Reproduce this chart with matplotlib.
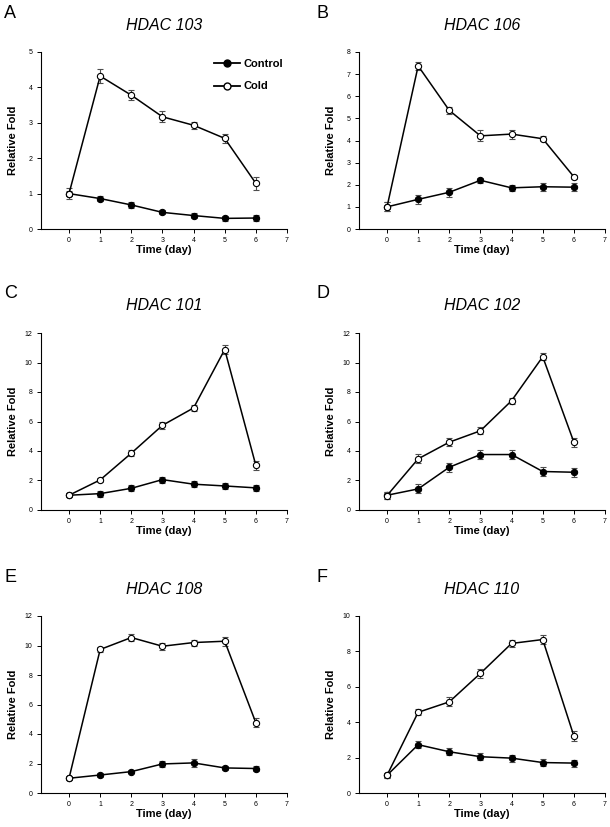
import matplotlib
matplotlib.use('Agg')
import matplotlib.pyplot as plt
from matplotlib.lines import Line2D

plt.rcParams['font.family'] = ['Liberation Sans', 'DejaVu Sans']

# data
days = [0, 1, 2, 3, 4, 5, 6]
genes = ['HDAC 103', 'HDAC 106', 'HDAC 101', 'HDAC 102', 'HDAC 108', 'HDAC 110']
letters = ['A', 'B', 'C', 'D', 'E', 'F']
ymax = [5, 8, 12, 12, 12, 10]
ystep = [1, 1, 2, 2, 2, 2]

ctrl_103 = [1.0, 0.86, 0.68, 0.47, 0.38, 0.30, 0.31]
ctrl_103_err = [0.08, 0.08, 0.08, 0.06, 0.07, 0.06, 0.08]
cold_103 = [1.0, 4.32, 3.78, 3.17, 2.93, 2.56, 1.29]
cold_103_err = [0.15, 0.19, 0.14, 0.16, 0.10, 0.13, 0.18]

ctrl_106 = [1.0, 1.34, 1.66, 2.20, 1.86, 1.91, 1.89]
ctrl_106_err = [0.2, 0.2, 0.2, 0.12, 0.12, 0.18, 0.18]
cold_106 = [1.0, 7.37, 5.36, 4.21, 4.29, 4.08, 2.36]
cold_106_err = [0.2, 0.18, 0.17, 0.25, 0.2, 0.12, 0.1]

ctrl_101 = [1.0, 1.11, 1.47, 2.06, 1.75, 1.63, 1.50]
ctrl_101_err = [0.15, 0.2, 0.2, 0.2, 0.2, 0.2, 0.2]
cold_101 = [1.0, 2.04, 3.85, 5.74, 6.92, 10.88, 3.02]
cold_101_err = [0.15, 0.15, 0.2, 0.25, 0.2, 0.3, 0.3]

ctrl_102 = [1.0, 1.43, 2.90, 3.76, 3.76, 2.61, 2.56]
ctrl_102_err = [0.25, 0.3, 0.3, 0.3, 0.3, 0.3, 0.3]
cold_102 = [0.98, 3.47, 4.60, 5.37, 7.41, 10.39, 4.60]
cold_102_err = [0.25, 0.3, 0.25, 0.25, 0.2, 0.25, 0.3]

ctrl_108 = [1.0, 1.22, 1.45, 1.97, 2.04, 1.70, 1.66]
ctrl_108_err = [0.1, 0.15, 0.12, 0.2, 0.25, 0.12, 0.15]
cold_108 = [1.0, 9.73, 10.54, 9.95, 10.20, 10.29, 4.76]
cold_108_err = [0.1, 0.2, 0.25, 0.25, 0.2, 0.3, 0.3]

ctrl_110 = [1.0, 2.73, 2.33, 2.05, 1.97, 1.72, 1.69]
ctrl_110_err = [0.15, 0.18, 0.2, 0.2, 0.2, 0.18, 0.2]
cold_110 = [1.0, 4.56, 5.15, 6.76, 8.45, 8.67, 3.22]
cold_110_err = [0.15, 0.18, 0.25, 0.25, 0.2, 0.28, 0.3]

ctrl_all = [ctrl_103, ctrl_106, ctrl_101, ctrl_102, ctrl_108, ctrl_110]
ctrl_err_all = [ctrl_103_err, ctrl_106_err, ctrl_101_err, ctrl_102_err, ctrl_108_err, ctrl_110_err]
cold_all = [cold_103, cold_106, cold_101, cold_102, cold_108, cold_110]
cold_err_all = [cold_103_err, cold_106_err, cold_101_err, cold_102_err, cold_108_err, cold_110_err]

W, H = 610, 827
fig = plt.figure(figsize=(W/100, H/100), dpi=100)

# axes boxes in pixels (left, top)
col_left = [41, 359]
row_top = [52, 333, 616]
ax_w, ax_h = 246, 177

for i in range(6):
    r, c = i // 2, i % 2
    x0, y0 = col_left[c], row_top[r]
    ax = fig.add_axes([x0/W, 1 - (y0 + ax_h)/H, ax_w/W, ax_h/H])

    ax.errorbar(days, ctrl_all[i], yerr=ctrl_err_all[i], color='black', lw=1.1,
                marker='o', ms=4.5, mfc='black', mec='black', mew=0.8,
                ecolor='0.3', elinewidth=0.8, capsize=2.2, capthick=0.8, zorder=2)
    ax.errorbar(days, cold_all[i], yerr=cold_err_all[i], color='black', lw=1.1,
                marker='o', ms=4.5, mfc='white', mec='black', mew=0.8,
                ecolor='0.3', elinewidth=0.8, capsize=2.2, capthick=0.8, zorder=3)

    ax.set_xlim(-0.9, 7)
    ax.set_ylim(0, ymax[i])
    ax.set_xticks(range(0, 8))
    ax.set_yticks(range(0, ymax[i] + 1, ystep[i]))
    ax.spines['top'].set_visible(False)
    ax.spines['right'].set_visible(False)
    ax.spines['left'].set_linewidth(0.8)
    ax.spines['bottom'].set_linewidth(0.8)
    ax.tick_params(direction='out', length=3, width=0.7, labelsize=5, pad=3)

    ax.text(0.5, 1 + 27/ax_h, genes[i], transform=ax.transAxes, ha='center',
            va='center', fontsize=11.5, style='italic')
    ax.text(0.5, -21/ax_h, 'Time (day)', transform=ax.transAxes, ha='center',
            va='center', fontsize=8, fontweight='bold')
    fig.text((x0 - 28)/W, 1 - (y0 + ax_h/2)/H, 'Relative Fold', rotation=90,
             ha='center', va='center', fontsize=8, fontweight='bold')
    fig.text((x0 - 40 + (3 if c == 0 else -3))/W, 1 - (y0 - 39)/H, letters[i],
             ha='left', va='center', fontsize=13)

    if i == 0:
        handles = [Line2D([], [], color='black', lw=1.3, marker='o', ms=5,
                          mfc='black', mec='black'),
                   Line2D([], [], color='black', lw=1.3, marker='o', ms=5,
                          mfc='white', mec='black')]
        ax.legend(handles, ['Control', 'Cold'], loc='upper right',
                  bbox_to_anchor=(1.01, 1.0), frameon=False,
                  handlelength=2.4, handletextpad=0.25, labelspacing=1.15,
                  borderaxespad=0.2, prop={'weight': 'bold', 'size': 8})

fig.savefig('out.png', dpi=100)
